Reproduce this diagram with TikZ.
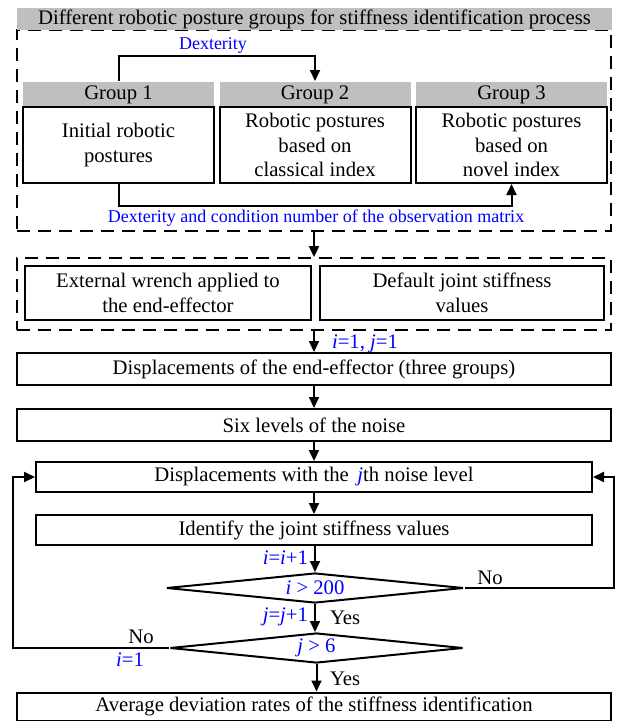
\documentclass[tikz,border=0pt]{standalone}
\usepackage{fontspec}
\setmainfont{Liberation Serif}
\usetikzlibrary{arrows.meta,shapes.geometric}
\begin{document}
\begin{tikzpicture}[x=1pt, y=-1pt, line width=2pt,
    every node/.style={font=\fontsize{20.7}{24.5}\selectfont, inner sep=0pt, align=center},
    box/.style={draw, minimum height=30},
    head/.style={fill=gray!50, minimum width=191, minimum height=25},
    frame/.style={draw, dash pattern=on 13pt off 8pt, line width=1.8pt, minimum width=594},
    test/.style={draw, shape=diamond, aspect=10, minimum width=297, minimum height=30},
    flow/.style={-{Triangle[length=11pt,width=10pt]}},
    note/.style={text=blue},
    small/.style={font=\fontsize{18}{22}\selectfont}]
    \useasboundingbox (0,0) rectangle (619,721);

    \node[frame, minimum height=201] (frameA) at (314,130.5) {};
    \node[head, minimum width=595, minimum height=22] (title) at (314.5,19) {Different robotic posture groups for stiffness identification process};
    \foreach \xc/\idx in {118.5/1, 315/2, 511.5/3}
        \node[head] (head-\idx) at (\xc,94.5) {Group \idx};
    \node[box, minimum width=191, minimum height=76] (grp-1) at (118.5,145) {Initial robotic\\postures};
    \node[box, minimum width=191, minimum height=76] (grp-2) at (315,145) {Robotic postures\\based on\\classical index};
    \node[box, minimum width=191, minimum height=76] (grp-3) at (511.5,145) {Robotic postures\\based on\\novel index};
    \draw[flow] (head-1.north) -- ++(0,-25) -| (head-2.north);
    \node[note, small] (dext) at (213,45) {Dexterity};
    \draw[flow] (grp-1.south) -- ++(0,22) -| (grp-3.south);
    \node[note, small] (dextcond) at (316,218) {Dexterity and condition number of the observation matrix};

    \node[frame, minimum height=72] (frameB) at (314,294) {};
    \node[box, minimum width=286, minimum height=54] (wrench) at (168,293) {External wrench applied to\\the end-effector};
    \node[box, minimum width=284, minimum height=54] (default) at (462,293) {Default joint stiffness\\values};
    \draw[flow] (frameA.south) -- (frameB.north);

    \node[box, minimum width=594, minimum height=32] (disp) at (314,369) {Displacements of the end-effector (three groups)};
    \node[box, minimum width=594, minimum height=32] (noise) at (314,425) {Six levels of the noise};
    \node[box, minimum width=556] (jth) at (314,477) {Displacements with the \,{\color{blue}\itshape j}th noise level};
    \node[box, minimum width=556] (ident) at (314,530) {Identify the joint stiffness values};
    \node[test, text=blue] (chk-i) at (315,588) {\textit{i} > 200};
    \node[test, text=blue, minimum width=293] (chk-j) at (316.5,648) {\textit{j} > 6};
    \node[box, minimum width=594, minimum height=28] (avg) at (314,706.5) {Average deviation rates of the stiffness identification};
    \coordinate (loop-r) at (614,588);
    \coordinate (loop-l) at (13,648);

    \draw[flow] (frameB.south) -- (disp.north);
    \node[note, anchor=west] (start) at (331,344) {\textit{i}=1, \textit{j}=1};
    \draw[flow] (disp) -- (noise);
    \draw[flow] (noise) -- (jth);
    \draw[flow] (jth) -- (ident);
    \draw[flow] (ident.south -| chk-i.north) -- (chk-i.north);
    \draw[flow] (chk-i.south) -- (chk-i.south |- chk-j.north);
    \draw[flow] (chk-j.south) -- (chk-j.south |- avg.north);
    \draw[flow] (chk-i.east) -- (loop-r) |- (jth.east);
    \draw[flow] (chk-j.west) -- (loop-l) |- (jth.west);
    \node[note, anchor=east] (inc-i) at (309,558) {\textit{i}=\textit{i}+1};
    \node[note, anchor=east] (inc-j) at (309,617) {\textit{j}=\textit{j}+1};
    \node[anchor=west] (yes-i) at (329,618) {Yes};
    \node[anchor=west] (yes-j) at (329,679) {Yes};
    \node (no-i) at (490,578) {No};
    \node (no-j) at (141,637) {No};
    \node[note] (reset-i) at (130,660) {\textit{i}=1};
\end{tikzpicture}
\end{document}
